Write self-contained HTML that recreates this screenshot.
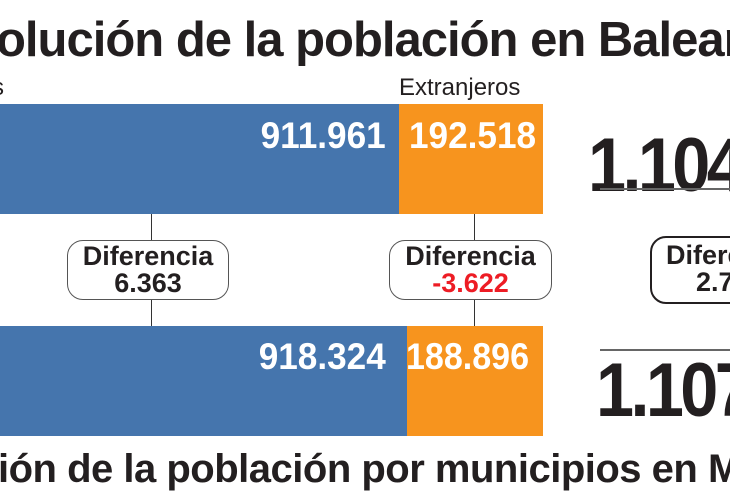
<!DOCTYPE html>
<html><head><meta charset="utf-8"><style>
body{margin:0;width:730px;height:500px;overflow:hidden;background:#fff;position:relative;font-family:"Liberation Sans",sans-serif;color:#231f20}
.a{position:absolute;white-space:nowrap}
.bar{position:absolute}
.n{position:absolute;color:#fff;font-weight:bold;font-size:37px;white-space:nowrap;transform:scaleX(0.95)}
.box{position:absolute;border:1.5px solid #555;border-radius:16px;background:#fff;text-align:center;font-weight:bold;font-size:27px;line-height:27px}
.vl{position:absolute;width:1px;background:#333}
</style></head><body>
<div style="position:absolute;left:0;top:0;width:730px;height:500px;overflow:hidden">
<div class="a" style="left:-4px;top:12px;font-size:49px;font-weight:bold;letter-spacing:-1px">olución de la población en Baleares</div>
<div class="a" style="left:-8px;top:74px;font-size:24px">s</div>
<div class="a" style="left:399px;top:74px;font-size:24px">Extranjeros</div>
<div class="bar" style="left:0;top:104px;width:399px;height:110px;background:#4575ad"></div>
<div class="bar" style="left:399px;top:104px;width:144px;height:110px;background:#f7941e"></div>
<div class="n" style="right:344px;top:115px;transform-origin:100% 0">911.961</div>
<div class="n" style="left:409px;top:115px;transform-origin:0 0">192.518</div>
<div class="a" style="left:588px;top:122px;font-size:76px;font-weight:bold;letter-spacing:-4px;transform-origin:0 0;transform:scaleX(0.9)">1.104</div>
<div class="bar" style="left:600px;top:188px;width:130px;height:2px;background:#666"></div>
<div class="vl" style="left:151px;top:214px;height:112px"></div>
<div class="vl" style="left:474px;top:214px;height:112px"></div>
<div class="box" style="left:67px;top:240px;width:160px;height:58px"><div style="margin-top:2px">Diferencia<br>6.363</div></div>
<div class="box" style="left:389px;top:240px;width:161px;height:58px"><div style="margin-top:2px">Diferencia<br><span style="color:#ed1c24">-3.622</span></div></div>
<div class="box" style="left:650px;top:236px;width:140px;height:64px;border:2.5px solid #231f20"><div style="text-align:left;margin:4px 0 0 14px">Diferencia<br>&nbsp;&nbsp;&nbsp;&nbsp;2.741</div></div>
<div class="bar" style="left:0;top:326px;width:407px;height:110px;background:#4575ad"></div>
<div class="bar" style="left:407px;top:326px;width:136px;height:110px;background:#f7941e"></div>
<div class="n" style="right:344px;top:336px;transform-origin:100% 0">918.324</div>
<div class="n" style="left:406px;top:336px;transform-origin:0 0;transform:scaleX(0.92)">188.896</div>
<div class="bar" style="left:600px;top:349px;width:130px;height:2px;background:#666"></div>
<div class="a" style="left:596px;top:347px;font-size:76px;font-weight:bold;letter-spacing:-4px;transform-origin:0 0;transform:scaleX(0.9)">1.107</div>
<div class="a" style="left:-2px;top:447px;font-size:40px;font-weight:bold;letter-spacing:-0.5px">ión de la población por municipios en Mallorca</div>
</div>
</body></html>
